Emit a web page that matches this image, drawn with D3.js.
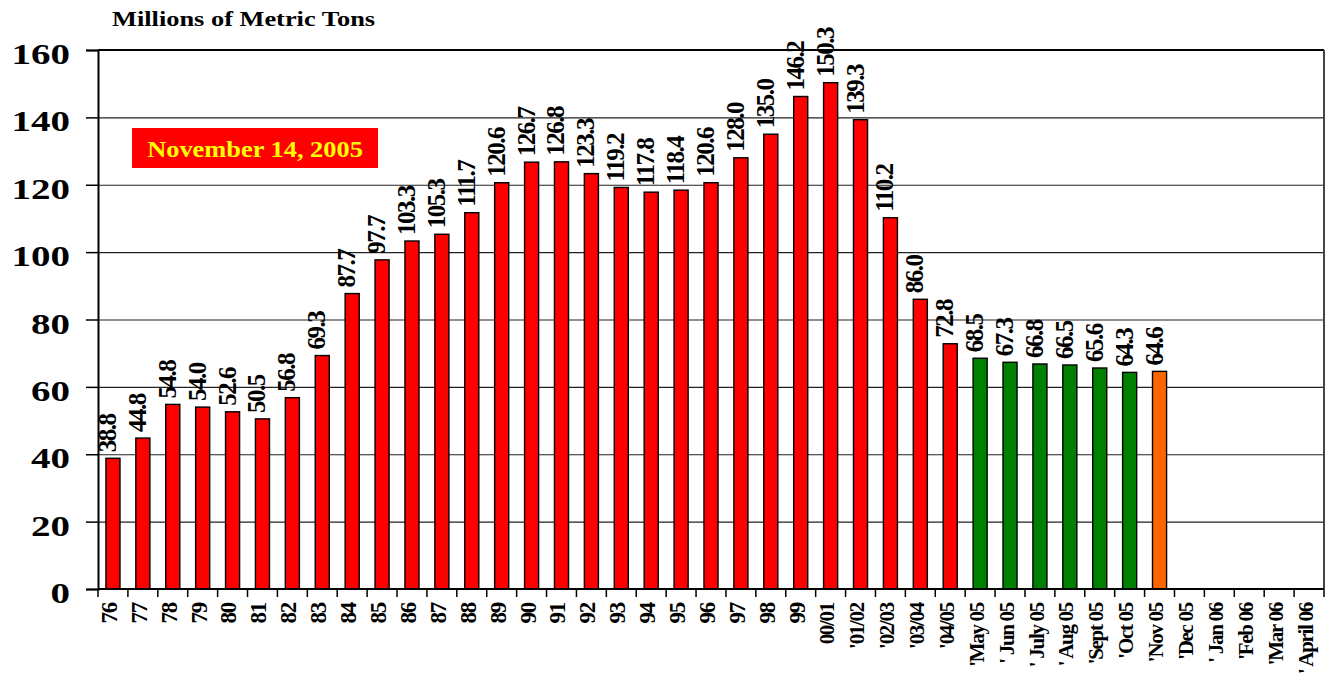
<!DOCTYPE html>
<html>
<head>
<meta charset="utf-8">
<script src="https://cdn.jsdelivr.net/npm/d3@7"></script>
<style>
  body { margin: 0; background: #fff; }
  text { font-family: "Liberation Serif", "Times New Roman", serif; font-weight: bold; }
</style>
</head>
<body>
<svg id="chart" width="1325" height="679"></svg>
<script>
// fiscal years, then monthly 2005/06
const years = ['76', '77', '78', '79', '80', '81', '82', '83', '84', '85', '86', '87',
  '88', '89', '90', '91', '92', '93', '94', '95', '96', '97', '98', '99',
  '00/01', "'01/02", "'02/03", "'03/04", "'04/05"];
const yearValues = [38.8, 44.8, 54.8, 54.0, 52.6, 50.5, 56.8, 69.3, 87.7, 97.7, 103.3, 105.3,
  111.7, 120.6, 126.7, 126.8, 123.3, 119.2, 117.8, 118.4, 120.6, 128.0, 135.0, 146.2,
  150.3, 139.3, 110.2, 86.0, 72.8];

const months = ["'May 05", "' Jun 05", "' July 05", "' Aug 05", "'Sept 05", "'Oct 05"];
const monthValues = [68.5, 67.3, 66.8, 66.5, 65.6, 64.3];

const current = ["'Nov 05"];
const currentValues = [64.6];

const future = ["'Dec 05", "' Jan 06", "'Feb 06", "'Mar 06", "' April 06"];

const yTicks = [0, 20, 40, 60, 80, 100, 120, 140, 160];
const title = 'Millions of Metric Tons';
const stamp = 'November 14, 2005';

const fills = { year: '#ff0000', month: '#008000', current: '#ff6600' };

const rows = [
  ...years.map((c, i) => ({ cat: c, value: yearValues[i], type: 'year' })),
  ...months.map((c, i) => ({ cat: c, value: monthValues[i], type: 'month' })),
  ...current.map((c, i) => ({ cat: c, value: currentValues[i], type: 'current' })),
  ...future.map(c => ({ cat: c, value: null, type: 'future' }))
];

const svg = d3.select('#chart');
const margin = { left: 98, right: 1, top: 50, bottom: 90 };
const W = 1325 - margin.left - margin.right;
const H = 679 - margin.top - margin.bottom;

const x = d3.scaleBand()
  .domain(rows.map(d => d.cat))
  .range([0, W])
  .paddingInner(0.53)
  .paddingOuter(0.265);

const y = d3.scaleLinear().domain([0, 160]).range([H, 0]);

const g = svg.append('g').attr('transform', `translate(${margin.left},${margin.top})`);

// gridlines
g.append('g')
  .call(d3.axisLeft(y).tickValues(yTicks.slice(1, -1)).tickSize(-W).tickFormat(''))
  .call(s => s.select('.domain').remove())
  .selectAll('line')
  .attr('stroke', '#222')
  .attr('stroke-width', 1.2);

// plot frame: top and right
g.append('line').attr('x1', 0).attr('x2', W).attr('y1', y(160)).attr('y2', y(160))
  .attr('stroke', '#000').attr('stroke-width', 2.2);
g.append('line').attr('x1', W).attr('x2', W).attr('y1', y(160)).attr('y2', y(0))
  .attr('stroke', '#444').attr('stroke-width', 2);

// bars
const filled = rows.filter(d => d.value != null);
g.selectAll('rect.bar')
  .data(filled)
  .join('rect')
  .attr('class', 'bar')
  .attr('x', d => x(d.cat))
  .attr('width', x.bandwidth())
  .attr('y', d => y(d.value))
  .attr('height', d => y(0) - y(d.value))
  .attr('fill', d => fills[d.type])
  .attr('stroke', '#000')
  .attr('stroke-width', 1.4);

// value labels
g.selectAll('text.val')
  .data(filled)
  .join('text')
  .attr('class', 'val')
  .attr('transform', d => `translate(${x(d.cat) + x.bandwidth() / 2},${y(d.value) - 6}) rotate(-90)`)
  .attr('dy', '0.12em')
  .attr('font-size', 25)
  .attr('letter-spacing', -1.5)
  .attr('fill', '#000')
  .text(d => d.value.toFixed(1));

// y axis
const yAxis = g.append('g')
  .call(d3.axisLeft(y).tickValues(yTicks).tickSize(12).tickPadding(0));
yAxis.select('.domain').attr('stroke', '#000').attr('stroke-width', 2);
yAxis.selectAll('line').attr('stroke', '#000').attr('stroke-width', 1.5);
yAxis.selectAll('text')
  .attr('font-size', 30)
  .attr('fill', '#000')
  .attr('x', -28 / 1.3)
  .attr('dy', '0.45em')
  .attr('transform', 'scale(1.3,1)');

// x axis line and ticks at band boundaries
const step = x.step();
const edges = rows.map(d => x(d.cat) - (step - x.bandwidth()) / 2).concat([W]);
g.append('line').attr('x1', 0).attr('x2', W).attr('y1', H).attr('y2', H)
  .attr('stroke', '#000').attr('stroke-width', 2);
g.selectAll('line.xtick')
  .data(edges)
  .join('line')
  .attr('class', 'xtick')
  .attr('x1', d => d).attr('x2', d => d)
  .attr('y1', H).attr('y2', H + 8)
  .attr('stroke', '#000').attr('stroke-width', 1.5);

// x labels
const xAxis = g.append('g')
  .attr('transform', `translate(0,${H})`)
  .call(d3.axisBottom(x).tickSize(0));
xAxis.select('.domain').remove();
xAxis.selectAll('text')
  .attr('transform', 'rotate(-90)')
  .attr('x', -14)
  .attr('y', 0)
  .attr('dy', '0.17em')
  .attr('text-anchor', 'end')
  .attr('font-size', d => d.length <= 2 ? 23 : 21)
  .attr('letter-spacing', -1.3)
  .attr('fill', '#000');

// title
svg.append('text')
  .attr('transform', 'translate(112,26) scale(1.2,1)')
  .attr('font-size', 22)
  .attr('fill', '#000')
  .text(title);

// date stamp
svg.append('rect')
  .attr('x', 132).attr('y', 128).attr('width', 246).attr('height', 40)
  .attr('fill', '#ff0000');
svg.append('text')
  .attr('transform', 'translate(255,157) scale(1.1,1)')
  .attr('text-anchor', 'middle')
  .attr('font-size', 24)
  .attr('fill', '#ffff00')
  .text(stamp);
</script>
</body>
</html>
